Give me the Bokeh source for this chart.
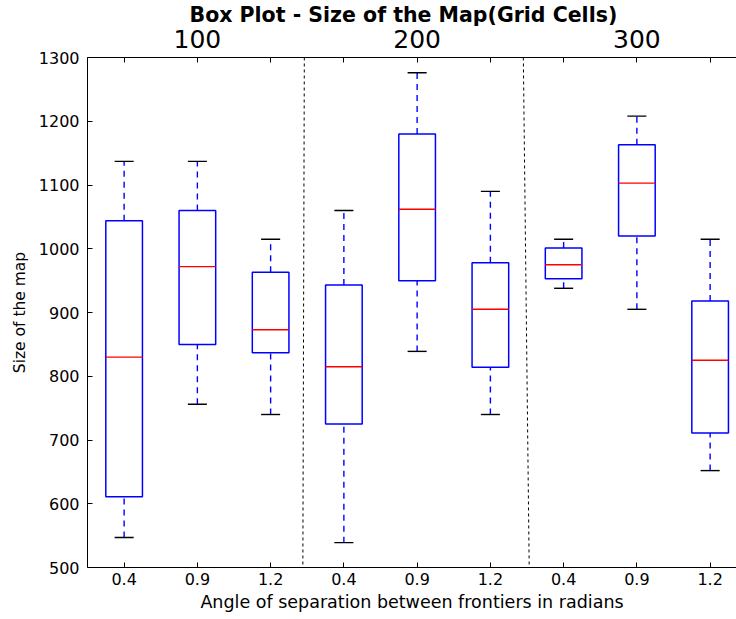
from bokeh.plotting import figure
from bokeh.models import Range1d, LinearAxis, FixedTicker, ColumnDataSource, Title
from bokeh.embed import file_html
from bokeh.resources import INLINE

# ---- data ----
groups = ["100", "200", "300"]          # map sizes (grid cells)
angles = ["0.4", "0.9", "1.2"]          # angle of separation (radians)
lower_whisker = [547, 756, 740, 539, 839, 740, 938, 905, 652]
q1 = [611, 850, 837, 725, 950, 814, 953, 1020, 711]
median = [830, 972, 873, 815, 1062, 905, 975, 1103, 825]
q3 = [1044, 1060, 963, 943, 1180, 978, 1001, 1163, 918]
upper_whisker = [1137, 1137, 1015, 1060, 1276, 1090, 1015, 1208, 1015]

# separators between groups (top / bottom positions in box-index units)
sep_top = [3.46, 6.45]
sep_bottom = [3.44, 6.53]

FONT = "DejaVu Sans"
BLUE = "#0000ff"
RED = "#ff0000"

n = len(median)
pos = [i + 1 for i in range(n)]
bottom_labels = [a for g in groups for a in angles]
box_w = 0.5
cap_w = 0.26

src = ColumnDataSource(dict(
    x=pos,
    left=[x - box_w / 2 for x in pos],
    right=[x + box_w / 2 for x in pos],
    cl=[x - cap_w / 2 for x in pos],
    cr=[x + cap_w / 2 for x in pos],
    lo=lower_whisker, q1=q1, med=median, q3=q3, hi=upper_whisker,
))

p = figure(frame_width=649, frame_height=510,
           x_range=Range1d(0.5, 9.36), y_range=Range1d(500, 1300),
           output_backend="svg", toolbar_location=None,
           min_border_left=87, min_border_right=0,
           min_border_top=57, min_border_bottom=52,
           x_axis_location="below", y_axis_location="left")
p.outline_line_color = None
p.background_fill_color = "white"
p.border_fill_color = "white"
p.xgrid.visible = False
p.ygrid.visible = False

# title
p.title = Title(text="Box Plot - Size of the Map(Grid Cells)", align="left",
                offset=102, text_font=FONT, text_font_size="20.5px",
                text_font_style="bold", text_color="black", standoff=0)

# whiskers
p.segment(x0="x", y0="q3", x1="x", y1="hi", source=src, line_color=BLUE,
          line_width=1.4, line_dash="6 5")
p.segment(x0="x", y0="lo", x1="x", y1="q1", source=src, line_color=BLUE,
          line_width=1.4, line_dash="6 5")
# caps
p.segment(x0="cl", y0="hi", x1="cr", y1="hi", source=src, line_color="black", line_width=1.4)
p.segment(x0="cl", y0="lo", x1="cr", y1="lo", source=src, line_color="black", line_width=1.4)
# boxes
p.quad(left="left", right="right", bottom="q1", top="q3", source=src,
       fill_color=None, line_color=BLUE, line_width=1.5)
# medians
p.segment(x0="left", y0="med", x1="right", y1="med", source=src, line_color=RED, line_width=1.4)

# separators
p.segment(x0=sep_top, y0=[1300] * 2, x1=sep_bottom, y1=[500] * 2,
          line_color="black", line_width=1, line_dash="3 3")

# bottom axis
xa = p.xaxis[0]
xa.ticker = FixedTicker(ticks=pos)
xa.major_label_overrides = {x: lab for x, lab in zip(pos, bottom_labels)}
xa.minor_tick_line_color = None
xa.major_tick_in = 5
xa.major_tick_out = 0
xa.major_label_standoff = 5
xa.axis_label = "Angle of separation between frontiers in radians"
xa.axis_label_text_font = FONT
xa.axis_label_text_font_size = "17.5px"
xa.axis_label_text_font_style = "normal"
xa.axis_label_text_color = "black"
xa.axis_label_standoff = 4
xa.major_label_text_font = FONT
xa.major_label_text_font_size = "16px"
xa.major_label_text_color = "black"
xa.axis_line_color = "black"
xa.major_tick_line_color = "black"

# left axis
ya = p.yaxis[0]
ya.ticker = FixedTicker(ticks=list(range(500, 1301, 100)))
ya.minor_tick_line_color = None
ya.major_tick_in = 5
ya.major_tick_out = 0
ya.major_label_standoff = 8
ya.axis_label = "Size of the map"
ya.axis_label_text_font = FONT
ya.axis_label_text_font_size = "15.5px"
ya.axis_label_text_font_style = "normal"
ya.axis_label_text_color = "black"
ya.axis_label_standoff = 7
ya.major_label_text_font = FONT
ya.major_label_text_font_size = "16px"
ya.major_label_text_color = "black"
ya.axis_line_color = "black"
ya.major_tick_line_color = "black"

# top axis with group labels
top_labels = {}
for i, x in enumerate(pos):
    top_labels[x] = groups[i // len(angles)] if i % len(angles) == 1 else ""
ta = LinearAxis(ticker=FixedTicker(ticks=pos), major_label_overrides=top_labels)
ta.minor_tick_line_color = None
ta.major_tick_in = 5
ta.major_tick_out = 0
ta.major_label_standoff = 10
ta.major_label_text_font = FONT
ta.major_label_text_font_size = "25px"
ta.major_label_text_color = "black"
ta.axis_line_color = "black"
ta.major_tick_line_color = "black"
p.add_layout(ta, "above")

open("out.html", "w").write(file_html(p, INLINE))
